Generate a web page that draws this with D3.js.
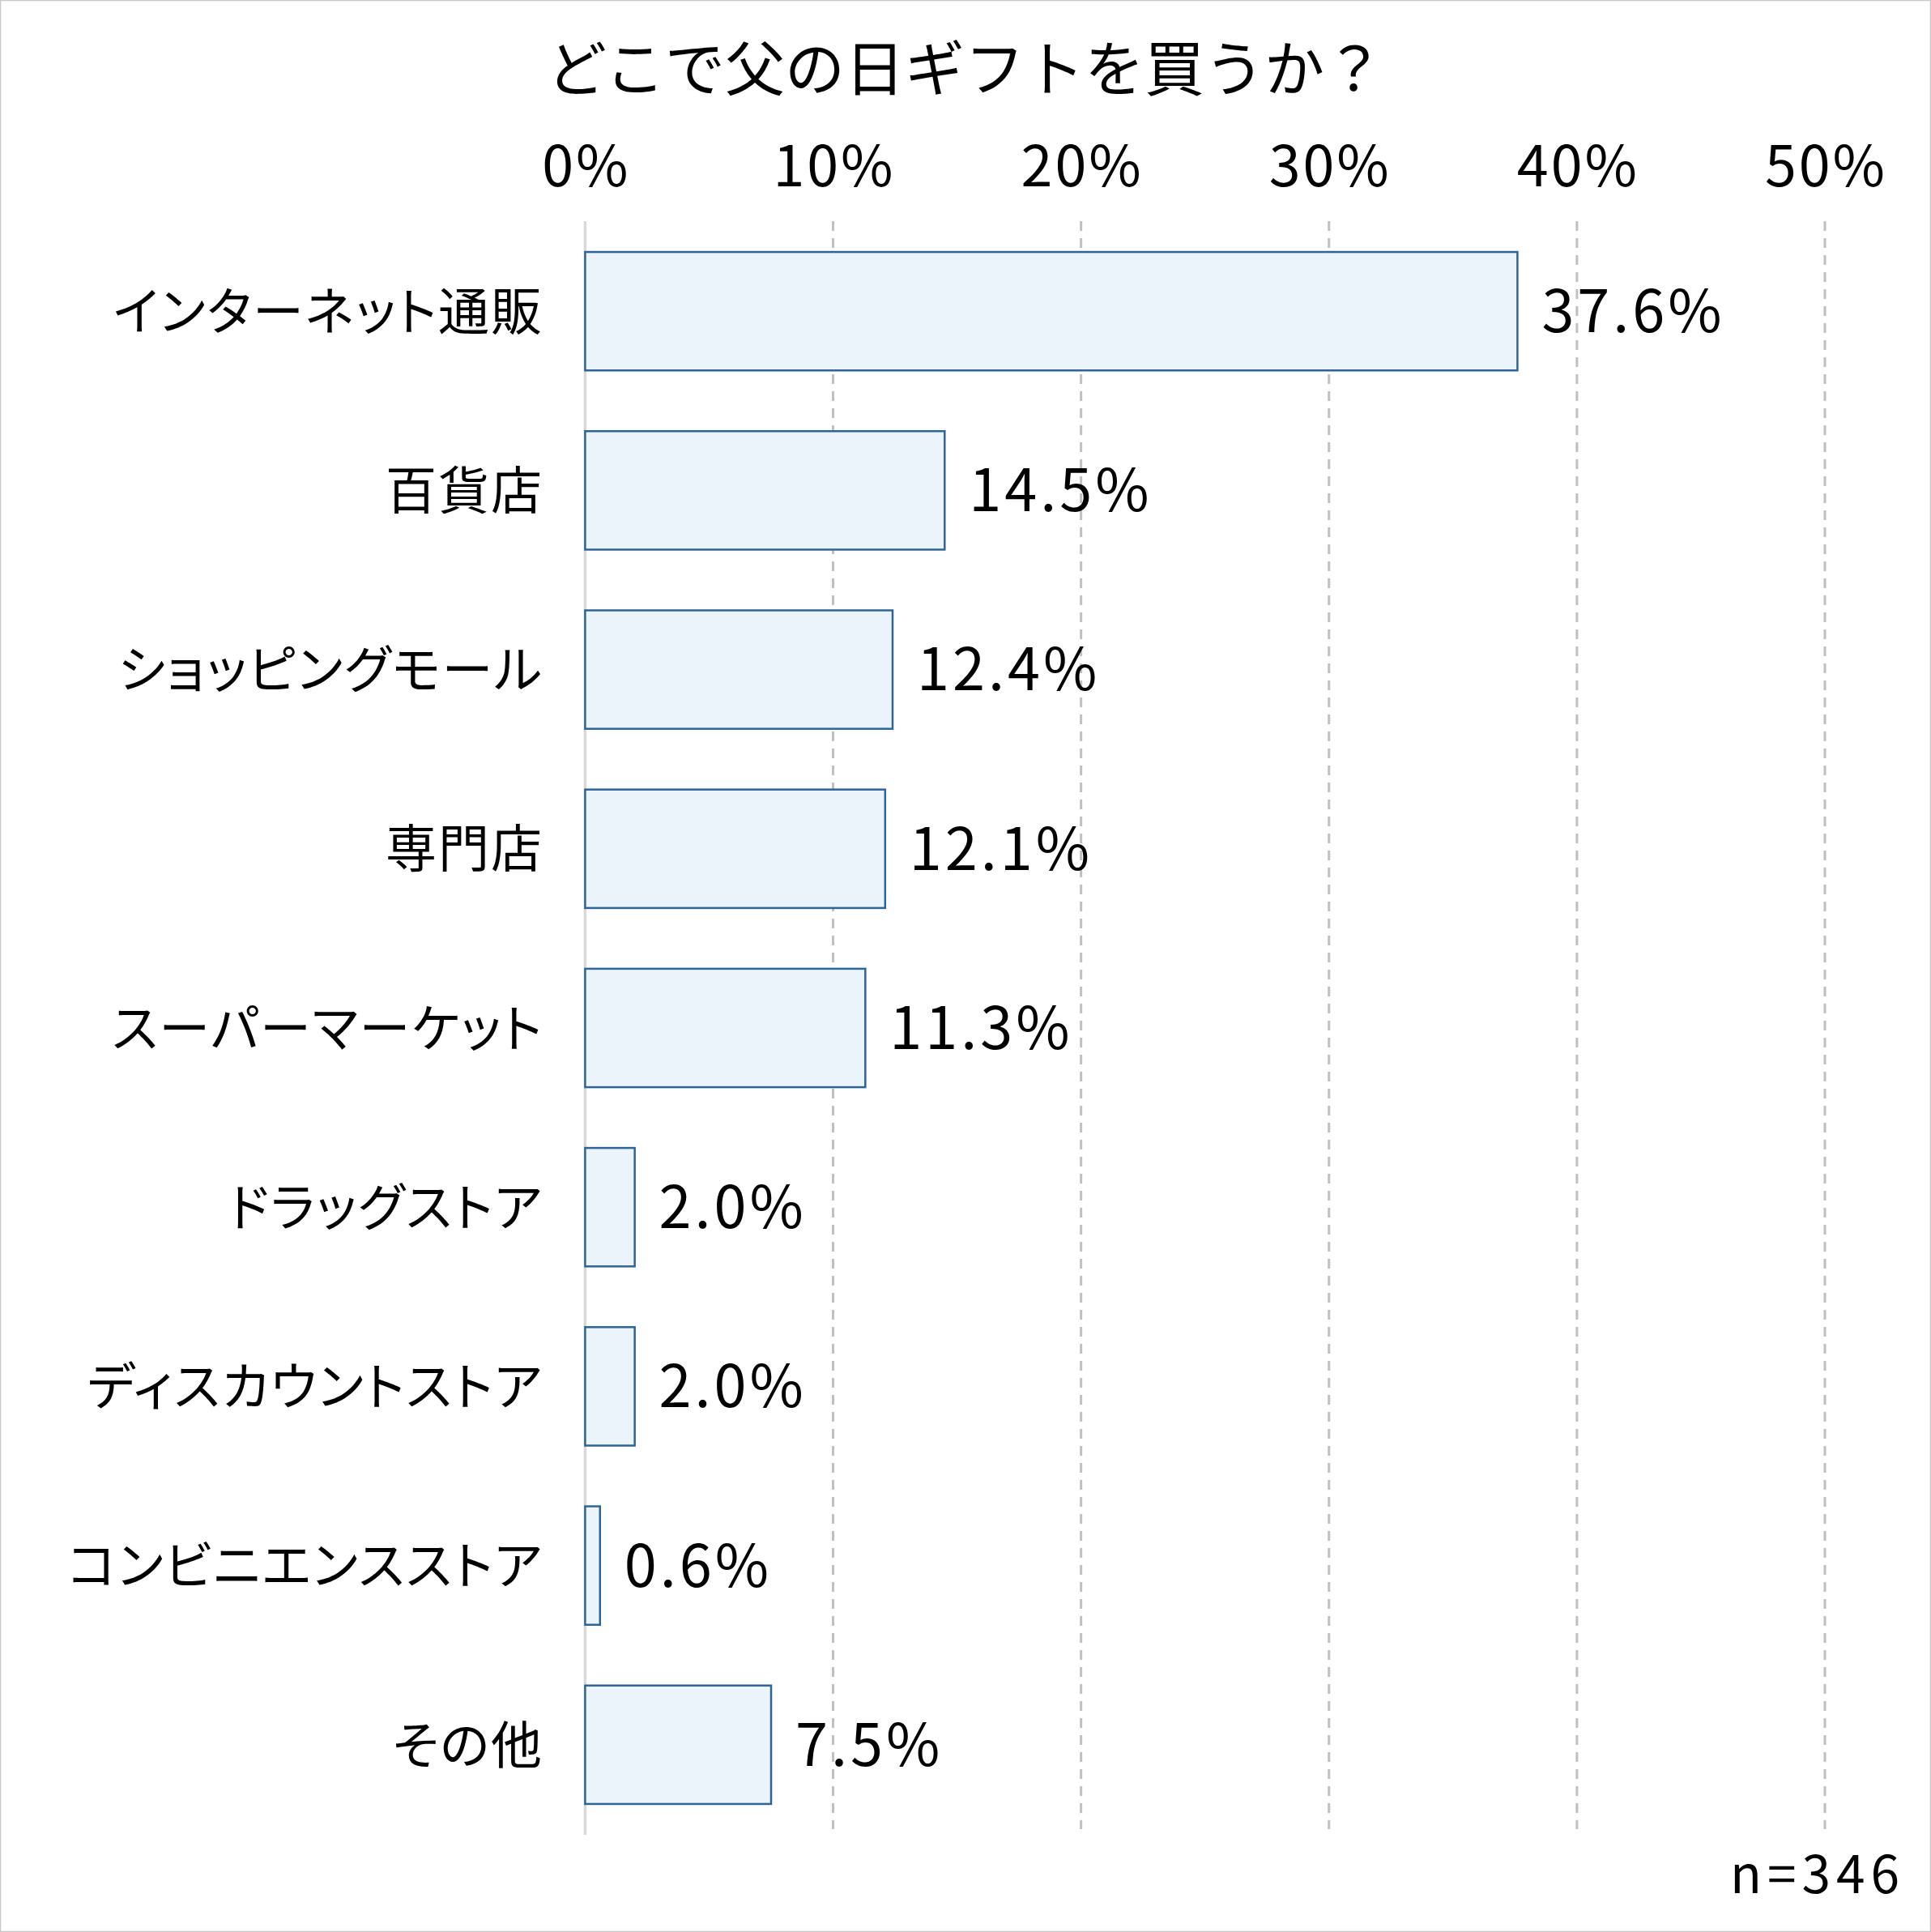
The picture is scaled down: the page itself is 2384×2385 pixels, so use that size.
<!DOCTYPE html>
<html lang="ja">
<head>
  <meta charset="UTF-8">
  <title>どこで父の日ギフトを買うか？</title>
  <script src="https://d3js.org/d3.v7.min.js"></script>
  <style>
    body { margin: 0; background: #fff; }
    text { font-family: "Noto Sans CJK JP", "Noto Sans", sans-serif; fill: #000; }
    .bar { fill: #ebf3fb; stroke: #2f6496; stroke-width: 2.5; }
    .grid line { stroke: #c0c0c0; stroke-width: 3; stroke-dasharray: 12 9; }
    .cat { font-feature-settings: "palt"; }
  </style>
</head>
<body>
  <div id="chart"></div>

  <script>
    const categories = ["インターネット通販", "百貨店", "ショッピングモール", "専門店", "スーパーマーケット",
                        "ドラッグストア", "ディスカウントストア", "コンビニエンスストア", "その他"];
    const values = [37.6, 14.5, 12.4, 12.1, 11.3, 2.0, 2.0, 0.6, 7.5];
    const ticks = [0, 10, 20, 30, 40, 50];
    const title = "どこで父の日ギフトを買うか？";
    const note = "n=346";

    const W = 2384, H = 2385;
    const dataset = categories.map((c, i) => ({ label: c, value: values[i] }));

    const svg = d3.select("#chart").append("svg")
      .attr("width", W).attr("height", H);

    // frame
    svg.append("rect")
      .attr("x", 0.5).attr("y", 0.5)
      .attr("width", W - 1).attr("height", H - 1)
      .attr("fill", "#fff").attr("stroke", "#c8c8c8").attr("stroke-width", 1.5);

    const x = d3.scaleLinear().domain([0, 50]).range([722.4, 2253]);
    const y = d3.scaleBand()
      .domain(categories)
      .range([273, 2265])
      .paddingInner(0.339)
      .paddingOuter(0.172);

    // grid lines
    svg.append("g").attr("class", "grid")
      .selectAll("line")
      .data(ticks.filter(t => t > 0))
      .enter().append("line")
      .attr("x1", d => x(d)).attr("x2", d => x(d))
      .attr("y1", 273).attr("y2", 2258);

    // zero line
    svg.append("line")
      .attr("x1", x(0)).attr("x2", x(0))
      .attr("y1", 273).attr("y2", 2265)
      .attr("stroke", "#d9d9d9").attr("stroke-width", 3.5);

    // tick labels on top
    svg.selectAll(".tick-label")
      .data(ticks)
      .enter().append("text")
      .attr("class", "tick-label")
      .attr("x", d => x(d) + 1.5)
      .attr("y", 230)
      .attr("text-anchor", "middle")
      .style("font-size", "70px")
      .style("letter-spacing", "3px")
      .text(d => `${d}%`);

    svg.selectAll(".bar")
      .data(dataset)
      .enter().append("rect")
      .attr("class", "bar")
      .attr("x", x(0))
      .attr("y", d => y(d.label))
      .attr("width", d => x(d.value) - x(0))
      .attr("height", y.bandwidth());

    // value labels
    svg.selectAll(".val")
      .data(dataset)
      .enter().append("text")
      .attr("class", "val")
      .attr("x", d => x(d.value) + 30)
      .attr("y", d => y(d.label) + y.bandwidth() / 2)
      .attr("dy", "0.36em")
      .style("font-size", "72px")
      .style("letter-spacing", "4px")
      .text(d => `${d.value.toFixed(1)}%`);

    // category labels
    svg.selectAll(".cat")
      .data(dataset)
      .enter().append("text")
      .attr("class", "cat")
      .attr("x", 671)
      .attr("y", d => y(d.label) + y.bandwidth() / 2)
      .attr("dy", "0.36em")
      .attr("text-anchor", "end")
      .style("font-size", "63px")
      .style("letter-spacing", "2px")
      .text(d => d.label);

    svg.append("text")
      .attr("x", 1192).attr("y", 112)
      .attr("text-anchor", "middle")
      .style("font-size", "74px")
      .text(title);

    svg.append("text")
      .attr("x", 2352).attr("y", 2337)
      .attr("text-anchor", "end")
      .style("font-size", "64px")
      .style("letter-spacing", "7px")
      .text(note);
  </script>
</body>
</html>
